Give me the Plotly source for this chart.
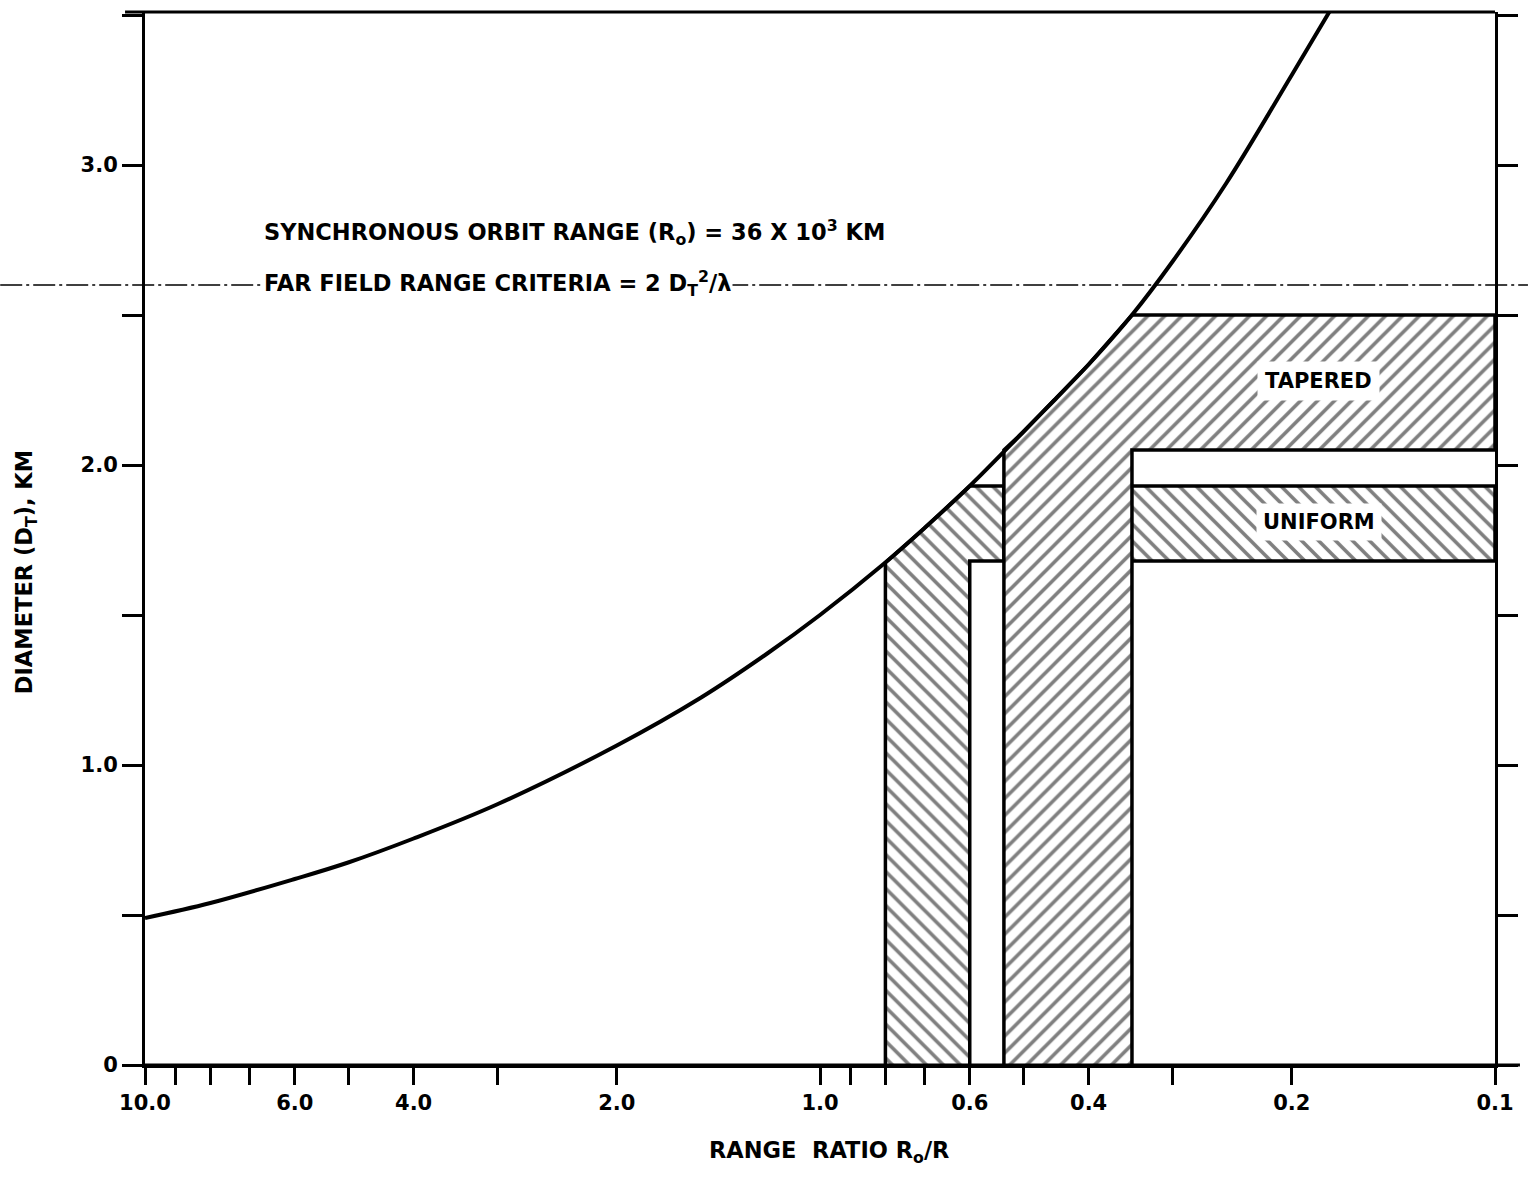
import plotly.graph_objects as go

# ---------------- data ----------------
curve_ratio = [10.0, 8.0, 6.0, 5.0, 4.0, 3.0, 2.0, 1.5, 1.2, 1.0, 0.8, 0.7, 0.6,
               0.5, 0.45, 0.4, 0.345, 0.3, 0.25, 0.2, 0.176]
curve_diam = [0.49, 0.54, 0.62, 0.675, 0.755, 0.87, 1.065, 1.225, 1.37, 1.50, 1.675, 1.79, 1.93,
              2.11, 2.215, 2.335, 2.50, 2.68, 2.94, 3.30, 3.51]

# region edges (range ratio) and levels (diameter, km)
uniform_left, uniform_inner = 0.80, 0.60
tapered_left, tapered_right = 0.534, 0.345
right_edge = 0.1
uniform_low, uniform_high = 1.68, 1.93
tapered_low, tapered_high = 2.05, 2.50
tapered_left_top = 2.05

far_field_level = 2.6

x_tickvals = [10, 9, 8, 7, 6, 5, 4, 3, 2, 1, 0.9, 0.8, 0.7, 0.6, 0.5, 0.4, 0.3, 0.2, 0.1]
x_ticktext = ["10.0", "", "", "", "6.0", "", "4.0", "", "2.0", "1.0", "", "", "", "0.6",
              "", "0.4", "", "0.2", "0.1"]
y_tickvals = [0, 0.5, 1.0, 1.5, 2.0, 2.5, 3.0, 3.5]
y_ticktext = ["0", "", "1.0", "", "2.0", "", "3.0", ""]

# ---------------- polygons built from the values above ----------------
def curve_between(hi, lo):
    pts = [(r, d) for r, d in zip(curve_ratio, curve_diam) if lo <= r < hi]
    return [p[0] for p in pts], [p[1] for p in pts]

cx, cy = curve_between(uniform_left, uniform_inner)
uniform_x = [uniform_left, uniform_left] + cx + [tapered_left, tapered_left, uniform_inner, uniform_inner]
uniform_y = [0.0, curve_diam[curve_ratio.index(uniform_left)]] + cy + [uniform_high, uniform_low, uniform_low, 0.0]

uniform_band_x = [tapered_right, right_edge, right_edge, tapered_right]
uniform_band_y = [uniform_low, uniform_low, uniform_high, uniform_high]

tx, ty = curve_between(tapered_left, tapered_right)
tapered_x = [tapered_left, tapered_left] + tx + [right_edge, right_edge, tapered_right, tapered_right]
tapered_y = [0.0, tapered_left_top] + ty + [tapered_high, tapered_low, tapered_low, 0.0]

# ---------------- layout geometry ----------------
W, H = 1530, 1180
L, R, T, B = 145, 33, 12, 115
PW, PH = W - L - R, H - T - B

def px(x):
    return (x - L) / PW

def py(y):
    return (H - B - y) / PH

FONT = "DejaVu Sans"
hatch = dict(fgcolor="black", bgcolor="white", size=12, solidity=0.3)

fig = go.Figure()
fig.add_trace(go.Scatter(
    x=uniform_x, y=uniform_y, fill="toself", mode="lines",
    line=dict(color="black", width=3.5), fillcolor="white",
    fillpattern=dict(shape="\\", **hatch), hoverinfo="skip", showlegend=False))
fig.add_trace(go.Scatter(
    x=uniform_band_x, y=uniform_band_y, fill="toself", mode="lines",
    line=dict(color="black", width=3.5), fillcolor="white",
    fillpattern=dict(shape="\\", **hatch), hoverinfo="skip", showlegend=False))
fig.add_trace(go.Scatter(
    x=tapered_x, y=tapered_y, fill="toself", mode="lines",
    line=dict(color="black", width=3.5), fillcolor="white",
    fillpattern=dict(shape="/", **hatch), hoverinfo="skip", showlegend=False))
fig.add_trace(go.Scatter(
    x=curve_ratio, y=curve_diam, mode="lines",
    line=dict(color="black", width=4, shape="spline", smoothing=1.0),
    hoverinfo="skip", showlegend=False, cliponaxis=True))

# far-field dash-dot line across whole page
fig.add_shape(type="line", xref="paper", yref="y",
              x0=px(0), x1=px(W), y0=far_field_level, y1=far_field_level,
              line=dict(color="black", width=1.5, dash="22px,4px,3px,4px"), layer="below")
# top border extending slightly left
fig.add_shape(type="line", xref="paper", yref="paper",
              x0=px(125), x1=1.0, y0=1.0, y1=1.0,
              line=dict(color="black", width=3))
# bottom axis line extending to the right
fig.add_shape(type="line", xref="paper", yref="paper",
              x0=0.0, x1=px(1522), y0=0.0, y1=0.0,
              line=dict(color="black", width=3))

tick_font = dict(family=FONT, size=21, color="black", weight="bold")
text_font = dict(family=FONT, size=22.5, color="black", weight="bold")
label_font = dict(family=FONT, size=21, color="black", weight="bold")

fig.update_xaxes(type="log", range=[1, -1], tickvals=x_tickvals, ticktext=x_ticktext,
                 ticks="outside", ticklen=17, tickwidth=3, tickcolor="black",
                 showline=True, linewidth=3, linecolor="black", mirror=False,
                 showgrid=False, zeroline=False, tickfont=tick_font)
fig.update_yaxes(range=[0, 3.51], tickvals=y_tickvals, ticktext=y_ticktext,
                 ticks="outside", ticklen=20, tickwidth=2.5, tickcolor="black",
                 showline=True, linewidth=3, linecolor="black", mirror="ticks",
                 showgrid=False, zeroline=False, tickfont=tick_font)

ann = []
ann.append(dict(x=px(262), y=py(232), xref="paper", yref="paper", xanchor="left", yanchor="middle",
                text="SYNCHRONOUS ORBIT RANGE (R<sub>o</sub>) = 36 X 10<sup>3</sup> KM",
                showarrow=False, font=text_font))
ann.append(dict(x=px(262), y=py(283), xref="paper", yref="paper", xanchor="left", yanchor="middle",
                text="FAR FIELD RANGE CRITERIA = 2 D<sub>T</sub><sup>2</sup>/λ",
                showarrow=False, font=text_font, bgcolor="white"))
ann.append(dict(x=px(1320), y=py(381), xref="paper", yref="paper", xanchor="center", yanchor="middle",
                text="TAPERED", showarrow=False, font=label_font, bgcolor="white", borderpad=7))
ann.append(dict(x=px(1321), y=py(522), xref="paper", yref="paper", xanchor="center", yanchor="middle",
                text="UNIFORM", showarrow=False, font=label_font, bgcolor="white", borderpad=6))
ann.append(dict(x=px(830), y=py(1152), xref="paper", yref="paper", xanchor="center", yanchor="middle",
                text="RANGE  RATIO R<sub>o</sub>/R", showarrow=False, font=text_font))
ann.append(dict(x=px(26), y=py(572), xref="paper", yref="paper", xanchor="center", yanchor="middle",
                text="DIAMETER (D<sub>T</sub>), KM", textangle=-90, showarrow=False, font=text_font))

fig.update_layout(width=W, height=H, margin=dict(l=L, r=R, t=T, b=B),
                  paper_bgcolor="white", plot_bgcolor="white", annotations=ann,
                  showlegend=False)

fig.write_html("out.html")
